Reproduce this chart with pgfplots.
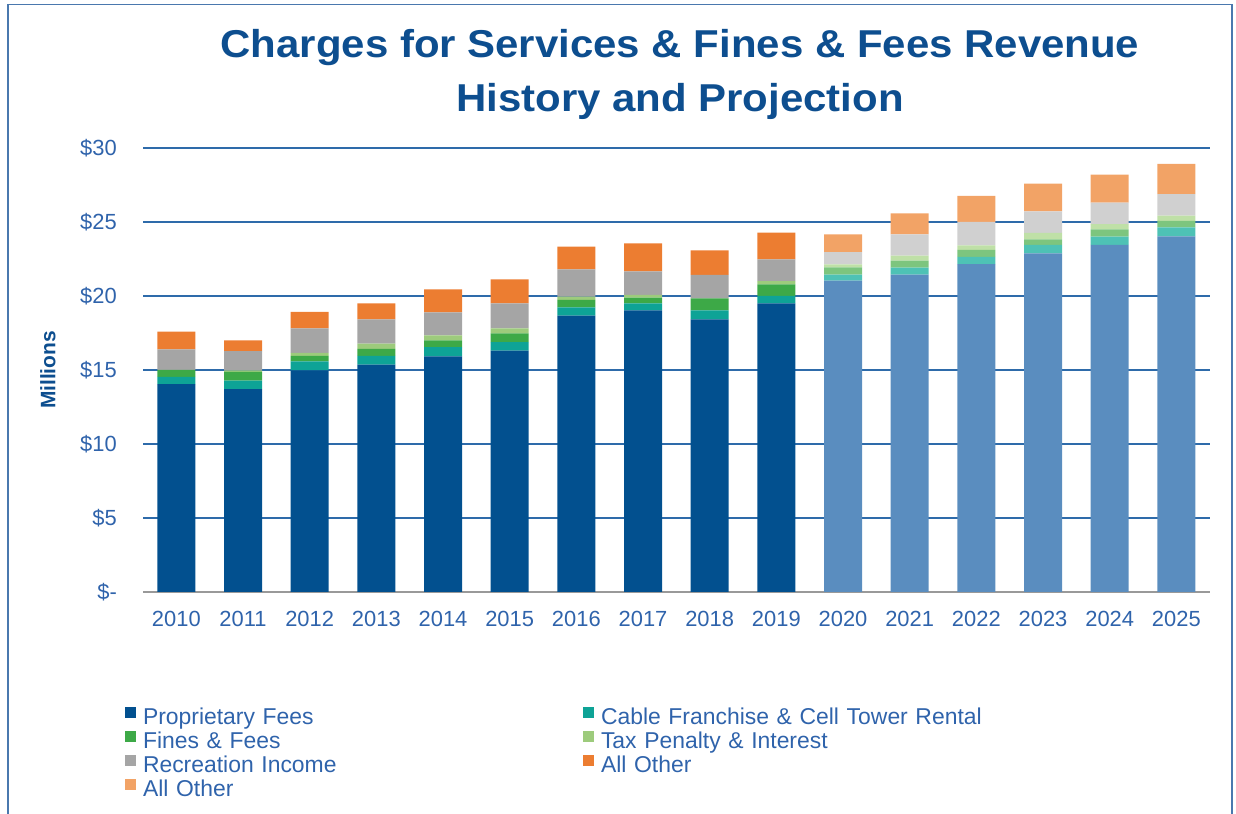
\documentclass[border=0pt]{standalone}
\usepackage{fontspec}
\setmainfont{Liberation Sans}
\usepackage{pgfplots}
\usepackage{pgfplotstable}
\pgfplotsset{compat=1.18}

\definecolor{titleblue}{HTML}{0D4E8F}
\definecolor{labelblue}{HTML}{2F63AB}
\definecolor{gridblue}{HTML}{2E6BAA}
\definecolor{framecol}{HTML}{4A78AE}
\definecolor{pH}{HTML}{02508F}
\definecolor{cH}{HTML}{0EA396}
\definecolor{fH}{HTML}{3DA947}
\definecolor{tH}{HTML}{9DCB7C}
\definecolor{rH}{HTML}{A5A5A5}
\definecolor{oH}{HTML}{EC7D31}
\definecolor{pP}{HTML}{5A8DBF}
\definecolor{cP}{HTML}{4EC2B5}
\definecolor{fP}{HTML}{7DC57E}
\definecolor{tP}{HTML}{BFE0A7}
\definecolor{rP}{HTML}{D0D0D0}
\definecolor{oP}{HTML}{F2A366}

\pgfplotstableread{
year pH cH fH tH rH oH pP cP fP tP rP oP
2010 14.05 0.48 0.47 0.00 1.40 1.19 0 0 0 0 0 0
2011 13.70 0.58 0.60 0.10 1.30 0.72 0 0 0 0 0 0
2012 14.98 0.61 0.36 0.20 1.67 1.10 0 0 0 0 0 0
2013 15.36 0.59 0.47 0.36 1.64 1.08 0 0 0 0 0 0
2014 15.92 0.63 0.45 0.34 1.56 1.55 0 0 0 0 0 0
2015 16.31 0.58 0.59 0.34 1.68 1.63 0 0 0 0 0 0
2016 18.67 0.56 0.50 0.22 1.85 1.53 0 0 0 0 0 0
2017 19.03 0.47 0.39 0.18 1.60 1.89 0 0 0 0 0 0
2018 18.42 0.61 0.81 0.00 1.58 1.67 0 0 0 0 0 0
2019 19.50 0.50 0.79 0.22 1.47 1.80 0 0 0 0 0 0
2020 0 0 0 0 0 0 21.04 0.40 0.50 0.20 0.83 1.20
2021 0 0 0 0 0 0 21.44 0.48 0.47 0.34 1.44 1.42
2022 0 0 0 0 0 0 22.16 0.48 0.47 0.31 1.58 1.76
2023 0 0 0 0 0 0 22.88 0.57 0.38 0.43 1.46 1.87
2024 0 0 0 0 0 0 23.45 0.56 0.49 0.36 1.45 1.89
2025 0 0 0 0 0 0 24.03 0.61 0.43 0.36 1.46 2.03
}\data

\begin{document}
\begin{tikzpicture}[x=1bp,y=1bp]
\useasboundingbox (0,0) rectangle (1236,814);
\draw[framecol, line width=1.5bp] (8,-2) -- (8,809.5) -- (1232,809.5) -- (1232,-2);
\node[anchor=base, text=titleblue, font=\fontsize{39}{46}\selectfont\bfseries, xscale=1.08] at (680,814-58) {Charges for Services \& Fines \& Fees Revenue};
\node[anchor=base, text=titleblue, font=\fontsize{39}{46}\selectfont\bfseries, xscale=1.08] at (680,814-112) {History and Projection};
\node[rotate=90, text=titleblue, font=\fontsize{21}{24}\selectfont\bfseries] at (48,814-370) {Millions};

\begin{axis}[
  at={(143bp,222bp)}, anchor=south west,
  scale only axis, width=1066.7bp, height=444bp,
  xmin=2009.5, xmax=2025.5, ymin=0, ymax=30,
  ybar stacked, bar width=38bp,
  axis line style={draw=none},
  tick style={draw=none},
  ytick={0,5,10,15,20,25,30},
  yticklabels={\$-,\$5,\$10,\$15,\$20,\$25,\$30},
  xtick={2010,2011,2012,2013,2014,2015,2016,2017,2018,2019,2020,2021,2022,2023,2024,2025},
  xticklabels={2010,2011,2012,2013,2014,2015,2016,2017,2018,2019,2020,2021,2022,2023,2024,2025},
  ymajorgrids, major grid style={gridblue, line width=1.5bp},
  yticklabel style={font=\fontsize{22}{26}\selectfont, text=labelblue, inner sep=0pt, anchor=east, xshift=-26bp},
  xticklabel style={font=\fontsize{22}{26}\selectfont, text=labelblue, inner sep=0pt, anchor=north, yshift=-19bp},
  legend columns=2,
  legend image code/.code={\fill[#1] (0bp,1bp) rectangle (11bp,12bp);},
  legend style={at={(axis description cs:-0.01687,-0.2601)}, anchor=north west,
    draw=none, fill=none, inner sep=0pt, outer sep=0pt, row sep=0pt,
    font=\fontsize{23}{24}\selectfont, text=labelblue,
    nodes={inner sep=0pt, outer sep=0pt, text height=17bp, text depth=7bp, text width=430bp, align=left},
    /tikz/every odd column/.style={column sep=7bp},
    /tikz/every even column/.style={column sep=10bp}},
  legend cell align=left,
  clip=false,
]
\addplot[fill=pH, draw=none] table[x=year,y=pH] {\data}; \addlegendentry{Proprietary Fees}
\addplot[fill=cH, draw=none] table[x=year,y=cH] {\data}; \addlegendentry{Cable Franchise \& Cell Tower Rental}
\addplot[fill=fH, draw=none] table[x=year,y=fH] {\data}; \addlegendentry{Fines \& Fees}
\addplot[fill=tH, draw=none] table[x=year,y=tH] {\data}; \addlegendentry{Tax Penalty \& Interest}
\addplot[fill=rH, draw=none] table[x=year,y=rH] {\data}; \addlegendentry{Recreation Income}
\addplot[fill=oH, draw=none] table[x=year,y=oH] {\data}; \addlegendentry{All Other}
\addplot[fill=pP, draw=none, forget plot] table[x=year,y=pP] {\data};
\addplot[fill=cP, draw=none, forget plot] table[x=year,y=cP] {\data};
\addplot[fill=fP, draw=none, forget plot] table[x=year,y=fP] {\data};
\addplot[fill=tP, draw=none, forget plot] table[x=year,y=tP] {\data};
\addplot[fill=rP, draw=none, forget plot] table[x=year,y=rP] {\data};
\addplot[fill=oP, draw=none] table[x=year,y=oP] {\data}; \addlegendentry{All Other}
\draw[gray!80, line width=1.5bp] (rel axis cs:0,0) -- (rel axis cs:1,0);
\end{axis}
\end{tikzpicture}
\end{document}
